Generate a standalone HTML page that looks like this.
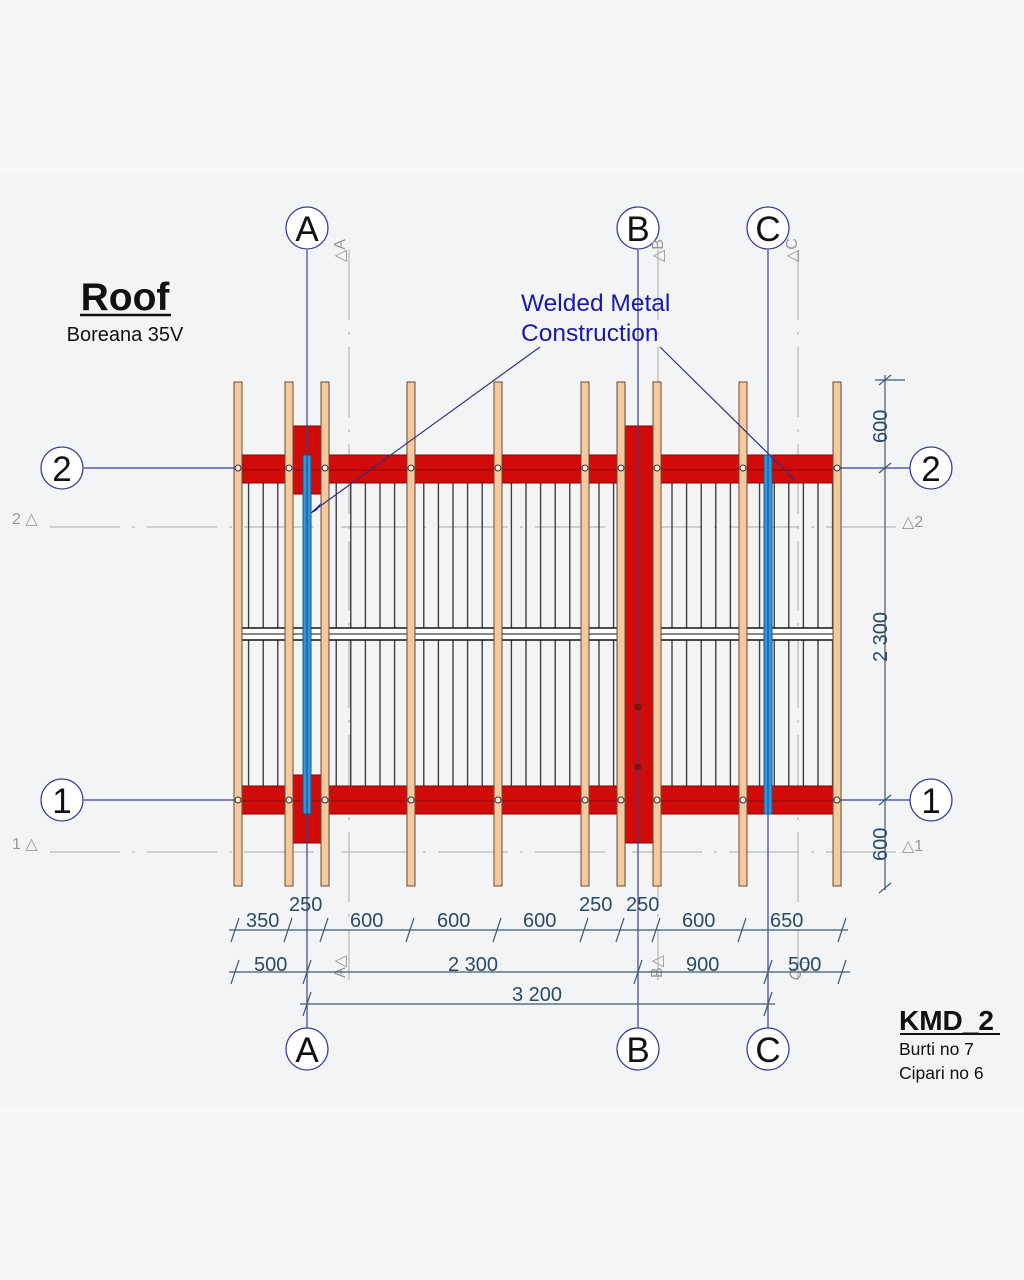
<!DOCTYPE html>
<html><head><meta charset="utf-8"><style>
body{margin:0;background:#f8f8f8;}
svg{display:block;font-family:"Liberation Sans",sans-serif;}
</style></head><body>
<svg width="1024" height="1280" viewBox="0 0 1024 1280" xmlns="http://www.w3.org/2000/svg">
<defs>
<pattern id="raf" x="242" y="0" width="14.6" height="10" patternUnits="userSpaceOnUse">
<rect x="6" y="0" width="1.2" height="10" fill="#222"/>
</pattern>
</defs>
<rect x="0" y="0" width="1024" height="1280" fill="#f8f8f8"/>
<rect x="0" y="172" width="1024" height="936" fill="#f3f4f6"/>

<g stroke="#aaa" stroke-width="1" stroke-dasharray="70,12,3,12">
<line x1="349" y1="250" x2="349" y2="980"/>
<line x1="658" y1="250" x2="658" y2="980"/>
<line x1="798" y1="250" x2="798" y2="980"/>
<line x1="50" y1="527" x2="900" y2="527"/>
<line x1="50" y1="852" x2="900" y2="852"/>
</g>

<rect x="242" y="483" width="591" height="145" fill="url(#raf)"/>
<rect x="242" y="640" width="591" height="146" fill="url(#raf)"/>

<g fill="#d10a0a" stroke="#8a0000" stroke-width="1">
<rect x="242" y="455" width="591" height="28"/>
<rect x="242" y="786" width="591" height="28"/>
<rect x="292" y="426" width="29" height="68"/>
<rect x="292" y="775" width="29" height="68"/>
</g>
<line x1="242" y1="470" x2="833" y2="470" stroke="#8a0000"/>
<line x1="242" y1="801" x2="833" y2="801" stroke="#8a0000"/>

<rect x="235" y="628" width="605" height="12" fill="#fff" stroke="#111" stroke-width="1.5"/>
<line x1="235" y1="634" x2="840" y2="634" stroke="#111" stroke-width="1"/>

<rect x="625" y="426" width="28" height="417" fill="#d10a0a" stroke="#8a0000"/>

<g fill="#f5c9a0" stroke="#6b4a30" stroke-width="1">
<rect x="234" y="382" width="8" height="504"/>
<rect x="285" y="382" width="8" height="504"/>
<rect x="321" y="382" width="8" height="504"/>
<rect x="407" y="382" width="8" height="504"/>
<rect x="494" y="382" width="8" height="504"/>
<rect x="581" y="382" width="8" height="504"/>
<rect x="617" y="382" width="8" height="504"/>
<rect x="653" y="382" width="8" height="504"/>
<rect x="739" y="382" width="8" height="504"/>
<rect x="833" y="382" width="8" height="504"/>
</g>

<g fill="#2a9ad8" stroke="#155a8a">
<rect x="303" y="455" width="8" height="359" rx="2"/>
<rect x="764" y="455" width="8" height="359"/>
</g>

<g stroke="#3a3f9a" stroke-width="1.2">
<line x1="307" y1="250" x2="307" y2="1028"/>
<line x1="638" y1="250" x2="638" y2="1028"/>
<line x1="768" y1="250" x2="768" y2="1028"/>
<line x1="84" y1="468" x2="235" y2="468"/>
<line x1="833" y1="468" x2="910" y2="468"/>
<line x1="84" y1="800" x2="235" y2="800"/>
<line x1="833" y1="800" x2="910" y2="800"/>
</g>
<g fill="#f3e6d8" stroke="#333" stroke-width="1">
<circle cx="238" cy="468" r="3"/><circle cx="289" cy="468" r="3"/><circle cx="325" cy="468" r="3"/><circle cx="411" cy="468" r="3"/><circle cx="498" cy="468" r="3"/><circle cx="585" cy="468" r="3"/><circle cx="621" cy="468" r="3"/><circle cx="657" cy="468" r="3"/><circle cx="743" cy="468" r="3"/><circle cx="837" cy="468" r="3"/>
<circle cx="238" cy="800" r="3"/><circle cx="289" cy="800" r="3"/><circle cx="325" cy="800" r="3"/><circle cx="411" cy="800" r="3"/><circle cx="498" cy="800" r="3"/><circle cx="585" cy="800" r="3"/><circle cx="621" cy="800" r="3"/><circle cx="657" cy="800" r="3"/><circle cx="743" cy="800" r="3"/><circle cx="837" cy="800" r="3"/>
<circle cx="638" cy="707" r="3" fill="#a00"/><circle cx="638" cy="767" r="3" fill="#a00"/>
</g>

<g fill="#fff" stroke="#3a3f9a" stroke-width="1.3">
<circle cx="307" cy="228" r="21"/><circle cx="638" cy="228" r="21"/><circle cx="768" cy="228" r="21"/>
<circle cx="307" cy="1049" r="21"/><circle cx="638" cy="1049" r="21"/><circle cx="768" cy="1049" r="21"/>
<circle cx="62" cy="468" r="21"/><circle cx="62" cy="800" r="21"/>
<circle cx="931" cy="468" r="21"/><circle cx="931" cy="800" r="21"/>
</g>
<g font-size="35" fill="#111" text-anchor="middle">
<text x="307" y="241">A</text><text x="638" y="241">B</text><text x="768" y="241">C</text>
<text x="307" y="1062">A</text><text x="638" y="1062">B</text><text x="768" y="1062">C</text>
<text x="62" y="481">2</text><text x="62" y="813">1</text>
<text x="931" y="481">2</text><text x="931" y="813">1</text>
</g>

<g fill="#999" font-size="16">
<text x="12" y="524">2 △</text><text x="12" y="849">1 △</text>
<text x="902" y="527">△2</text><text x="902" y="851">△1</text>
<text transform="translate(345,262) rotate(-90)">△A</text>
<text transform="translate(663,262) rotate(-90)">△B</text>
<text transform="translate(797,262) rotate(-90)">△C</text>
<text transform="translate(345,978) rotate(-90)">A△</text>
<text transform="translate(662,978) rotate(-90)">B△</text>
<text transform="translate(797,982) rotate(-60)">C△</text>
</g>

<g stroke="#33337a" stroke-width="1.2">
<line x1="540" y1="347" x2="312" y2="512"/>
<line x1="660" y1="347" x2="795" y2="480"/>
</g>
<polygon points="310,514 322,502 317,510" fill="#0000cc"/>
<polygon points="797,482 786,474 792,478" fill="#0000cc"/>
<g fill="#1a1aaa" font-size="24.5">
<text x="521" y="311">Welded Metal</text>
<text x="521" y="341">Construction</text>
</g>

<text x="125" y="310" font-size="39" font-weight="bold" text-anchor="middle" fill="#111">Roof</text>
<line x1="80" y1="315" x2="171" y2="315" stroke="#111" stroke-width="2.5"/>
<text x="125" y="341" font-size="20" text-anchor="middle" fill="#111">Boreana 35V</text>
<text x="899" y="1030" font-size="28" font-weight="bold" fill="#111">KMD_2</text>
<line x1="900" y1="1034" x2="1000" y2="1034" stroke="#111" stroke-width="2"/>
<text x="899" y="1055" font-size="17.5" fill="#111">Burti no 7</text>
<text x="899" y="1079" font-size="17.5" fill="#111">Cipari no 6</text>

<g stroke="#3f5a70" stroke-width="1.2">
<line x1="885" y1="375" x2="885" y2="890"/>
<line x1="875" y1="380" x2="905" y2="380"/>
<line x1="229" y1="930" x2="848" y2="930"/>
<line x1="229" y1="972" x2="850" y2="972"/>
<line x1="300" y1="1004" x2="775" y2="1004"/>
</g>
<g stroke="#3f5a70" stroke-width="1.2">
<path d="M879,385 l12,-10 M879,473 l12,-10 M879,805 l12,-10 M879,893 l12,-10"/>
<path d="M231,942 l8,-24 M284,942 l8,-24 M320,942 l8,-24 M406,942 l8,-24 M493,942 l8,-24 M580,942 l8,-24 M616,942 l8,-24 M652,942 l8,-24 M738,942 l8,-24 M838,942 l8,-24"/>
<path d="M231,984 l8,-24 M303,984 l8,-24 M634,984 l8,-24 M764,984 l8,-24 M838,984 l8,-24"/>
<path d="M303,1016 l8,-24 M764,1016 l8,-24"/>
</g>
<g fill="#2a4a66" font-size="20">
<text x="246" y="927">350</text><text x="289" y="911">250</text><text x="350" y="927">600</text>
<text x="437" y="927">600</text><text x="523" y="927">600</text><text x="579" y="911">250</text>
<text x="626" y="911">250</text><text x="682" y="927">600</text><text x="770" y="927">650</text>
<text x="254" y="971">500</text><text x="448" y="971">2 300</text><text x="686" y="971">900</text><text x="788" y="971">500</text>
<text x="512" y="1001">3 200</text>
<text transform="translate(887,443) rotate(-90)">600</text>
<text transform="translate(887,662) rotate(-90)">2 300</text>
<text transform="translate(887,861) rotate(-90)">600</text>
</g>
</svg>
</body></html>
